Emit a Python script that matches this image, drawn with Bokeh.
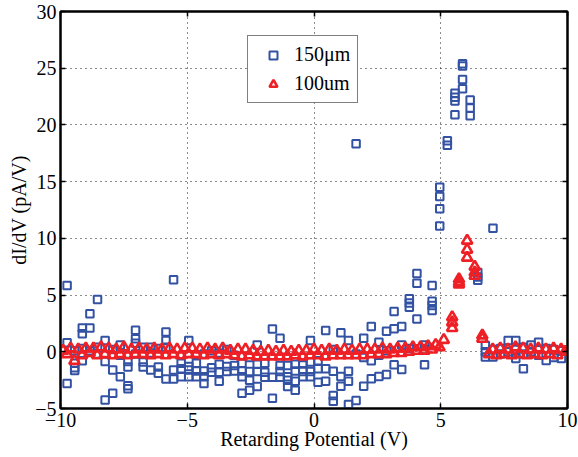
from bokeh.plotting import figure
from bokeh.models import Range1d, LinearAxis, Legend, LegendItem, FixedTicker
from bokeh.embed import file_html
from bokeh.resources import INLINE

# ---- data: 150um (blue squares), grouped by retarding-potential step ----
blue_grid = [-9.74, -9.44, -9.14, -8.84, -8.54, -8.24, -7.94, -7.64, -7.34, -7.04,
             -6.74, -6.44, -6.14, -5.84, -5.54, -5.24, -4.94, -4.64, -4.34, -4.04,
             -3.74, -3.44, -3.14, -2.84, -2.54, -2.24, -1.94, -1.64, -1.34, -1.04,
             -0.74, -0.44, -0.14, 0.16, 0.46, 0.76, 1.06, 1.36, 1.66, 1.96,
             2.26, 2.56, 2.86, 3.16, 3.46, 3.76, 4.06, 4.36, 4.66, 4.96,
             5.26, 5.56, 5.86, 6.16, 6.46, 6.76, 7.06, 7.36, 7.66, 7.96,
             8.26, 8.56, 8.86, 9.16, 9.46, 9.76]
blue_vals = [
    [5.85, 0.8, -2.8], [0.1, -1.0, -1.4, -1.65], [2.1, 1.6, 0.3, -0.8], [3.35, 2.1, 0.1],
    [4.6, 0.4, -0.2], [1.0, -0.85, -4.25], [0.2, -1.6, -3.65], [0.6, -0.3, -2.2],
    [-0.85, -1.35, -3.0, -3.25], [1.9, 1.15, 0.75, -0.2],
    [0.4, -0.9, -1.35], [0.4, -0.1, -1.6], [0.3, -1.35, -1.9], [1.75, 1.0, 0.4, -2.4],
    [6.35, -1.6, -2.4], [-1.0, -1.5, -2.2], [1.0, -1.3, -1.6, -2.2], [-0.3, -1.0, -1.7, -2.2],
    [-0.2, -1.7, -2.2, -2.8], [0.1, -1.4, -1.8],
    [-0.1, -1.1, -1.8, -2.6], [0.2, -1.3, -1.74], [-0.3, -1.2, -1.7], [-1.0, -1.7, -2.2, -3.65],
    [-0.5, -1.74, -2.5, -3.4], [0.6, -1.1, -1.74, -3.06], [-1.0, -1.8, -2.24], [2.0, -2.24, -4.1],
    [1.2, -1.2, -1.74, -2.24], [-1.2, -2.2, -2.5, -3.06],
    [-1.1, -1.7, -2.6, -3.4], [-0.5, -1.0, -1.74, -2.2], [1.0, -0.9, -1.74, -2.2], [-0.8, -1.5, -2.68],
    [1.88, -1.5, -2.59], [0.2, -1.71, -3.85, -4.36], [1.67, -2.18, -3.03], [1.0, -1.71, -2.6, -4.65],
    [18.34, -0.2, -4.3], [1.2, -0.5, -3.03],
    [2.23, -0.8, -2.38], [0.85, -0.3, -2.18], [1.82, 0.1, -2.0], [3.55, 2.03, -1.15],
    [2.23, 0.6, -1.56], [4.67, 4.3, 3.93, 0.3], [6.9, 6.05, 2.9], [0.6, 0.2, -1.15],
    [5.85, 4.46, 4.08, 3.64], [14.5, 13.7, 12.6, 11.1],
    [18.6, 18.2], [22.8, 22.45, 22.1, 20.9], [25.4, 25.2, 24.0, 23.2], [22.2, 21.5, 20.8],
    [7.0, 6.6, 6.3], [0.55, 0.0, -0.47], [10.9, 0.2, -0.47], [0.3, -0.2],
    [1.0, 0.0], [1.0, 0.2, -0.6],
    [0.4, -0.2, -1.5], [0.6, 0.0], [0.85, -0.3], [0.3, -0.77], [0.2, -0.5], [0.1, -0.6],
]

# ---- data: 100um (red triangles) ----
red_x = [-9.90, -9.75, -9.60, -9.45, -9.30, -9.15, -9.00, -8.85, -8.70, -8.55,
         -8.40, -8.25, -8.10, -7.95, -7.80, -7.65, -7.50, -7.35, -7.20, -7.05,
         -6.90, -6.75, -6.60, -6.45, -6.30, -6.15, -6.00, -5.85, -5.70, -5.55,
         -5.40, -5.25, -5.10, -4.95, -4.80, -4.65, -4.50, -4.35, -4.20, -4.05,
         -3.90, -3.75, -3.60, -3.45, -3.30, -3.15, -3.00, -2.85, -2.70, -2.55,
         -2.40, -2.25, -2.10, -1.95, -1.80, -1.65, -1.50, -1.35, -1.20, -1.05,
         -0.90, -0.75, -0.60, -0.45, -0.30, -0.15, 0.00, 0.15, 0.30, 0.45,
         0.60, 0.75, 0.90, 1.05, 1.20, 1.35, 1.50, 1.65, 1.80, 1.95,
         2.10, 2.25, 2.40, 2.55, 2.70, 2.85, 3.00, 3.15, 3.30, 3.45,
         3.60, 3.75, 3.90, 4.05, 4.20, 4.35, 4.50, 4.65, 4.80, 4.95,
         5.12, 5.45, 5.45, 5.45, 5.72, 5.72, 5.72, 6.04, 6.04, 6.04,
         6.34, 6.34, 6.34, 6.64, 6.64,
         6.90, 7.05, 7.20, 7.35, 7.50, 7.65, 7.80, 7.95, 8.10, 8.25,
         8.40, 8.55, 8.70, 8.85, 9.00, 9.15, 9.30, 9.45, 9.60, 9.75, 9.90]
red_y = [0.1, -0.2, 0.3, -0.8, 0.2, -0.3, 0.3, -0.1, 0.3, -0.3,
         0.4, -0.2, 0.3, -0.3, 0.2, -0.2, 0.4, -0.3, 0.2, -0.2,
         0.3, -0.2, 0.2, -0.3, 0.3, -0.2, 0.2, -0.3, 0.3, -0.2,
         0.2, -0.3, 0.3, -0.2, 0.3, -0.2, 0.2, -0.3, 0.3, -0.2,
         0.2, -0.3, 0.3, -0.2, 0.1, -0.3, 0.2, -0.4, 0.2, -0.3,
         0.1, -0.4, 0.0, -0.4, 0.1, -0.4, 0.0, -0.4, 0.1, -0.4,
         0.0, -0.3, 0.1, -0.4, 0.1, -0.3, 0.2, -0.3, 0.1, -0.4,
         0.2, -0.3, 0.1, -0.3, 0.2, -0.3, 0.1, -0.3, 0.2, -0.3,
         0.2, -0.2, 0.2, -0.2, 0.3, -0.2, 0.2, -0.1, 0.3, -0.1,
         0.3, 0.0, 0.4, 0.1, 0.4, 0.1, 0.5, 0.2, 0.6, 0.4,
         1.05, 3.05, 2.6, 2.1, 6.4, 6.15, 5.95, 9.8, 9.0, 8.3,
         7.5, 7.0, 6.7, 1.45, 1.15,
         -0.2, 0.2, -0.3, 0.3, -0.2, 0.2, -0.3, 0.4, -0.2, 0.3,
         -0.3, 0.2, -0.2, 0.3, -0.3, 0.2, -0.2, 0.3, -0.3, 0.2, 0.0]

x_ticks = [-10, -5, 0, 5, 10]
y_ticks = [-5, 0, 5, 10, 15, 20, 25, 30]
x_label = "Retarding Potential (V)"
y_label = "dI/dV (pA/V)"
legend_labels = ["150\u03bcm", "100um"]

blue_x = [x for x, vals in zip(blue_grid, blue_vals) for _ in vals]
blue_y = [v for vals in blue_vals for v in vals]

FONT = "Liberation Serif"
BLUE = "#3352a3"
RED = "#ee2026"

p = figure(width=578, height=457, x_range=Range1d(-10, 10), y_range=Range1d(-5, 30),
           output_backend="svg", toolbar_location=None,
           min_border_left=60, min_border_right=11, min_border_top=11, min_border_bottom=49)
p.background_fill_color = "white"
p.border_fill_color = "white"
p.outline_line_color = "black"
p.outline_line_width = 2

def minus(v):
    return ("\u2212" + str(abs(v))) if v < 0 else str(v)

for ax, ticks in ((p.xaxis[0], x_ticks), (p.yaxis[0], y_ticks)):
    ax.ticker = FixedTicker(ticks=ticks)
    ax.major_label_overrides = {t: minus(t) for t in ticks}
    ax.major_label_text_font = FONT
    ax.major_label_text_font_size = "20px"
    ax.major_label_text_color = "black"
    ax.axis_label_text_font = FONT
    ax.axis_label_text_font_size = "20px"
    ax.axis_label_text_font_style = "normal"
    ax.axis_label_text_color = "black"
    ax.axis_line_width = 2
    ax.axis_line_color = "black"
    ax.major_tick_in = 5
    ax.major_tick_out = 0
    ax.minor_tick_line_color = None
    ax.major_tick_line_width = 1.5
    ax.major_label_standoff = 4

p.xaxis[0].axis_label = x_label
p.yaxis[0].axis_label = y_label
p.xaxis[0].axis_label_standoff = -2
p.yaxis[0].axis_label_standoff = 2

for loc, ticks in (("right", y_ticks), ("above", x_ticks)):
    ax = LinearAxis(ticker=FixedTicker(ticks=ticks),
                    major_label_overrides={t: "" for t in ticks},
                    major_label_standoff=0, major_tick_in=5, major_tick_out=0,
                    minor_tick_line_color=None, axis_line_width=2, major_tick_line_width=1.5)
    p.add_layout(ax, loc)

p.xgrid.ticker = FixedTicker(ticks=x_ticks)
p.ygrid.ticker = FixedTicker(ticks=y_ticks)
p.grid.grid_line_color = "black"
p.grid.grid_line_dash = "1 4"
p.grid.grid_line_width = 1
p.grid.grid_line_alpha = 0.9

rb = p.scatter(blue_x, blue_y, marker="square", size=7.5, fill_alpha=0,
               line_color=BLUE, line_width=2)
rr = p.scatter(red_x, red_y, marker="triangle", size=10.5, fill_alpha=0,
               line_color=RED, line_width=2.6)

legend = Legend(items=[LegendItem(label=legend_labels[0], renderers=[rb]),
                       LegendItem(label=legend_labels[1], renderers=[rr])],
                location=(187, 305))
legend.label_text_font = FONT
legend.label_text_font_size = "20px"
legend.label_text_color = "black"
legend.border_line_color = "black"
legend.border_line_width = 1.5
legend.background_fill_alpha = 1
legend.padding = 7
legend.spacing = 6
legend.glyph_width = 36
legend.glyph_height = 20
legend.label_standoff = 3
legend.margin = 0
p.add_layout(legend, "center")

open("out.html", "w").write(file_html(p, INLINE))
